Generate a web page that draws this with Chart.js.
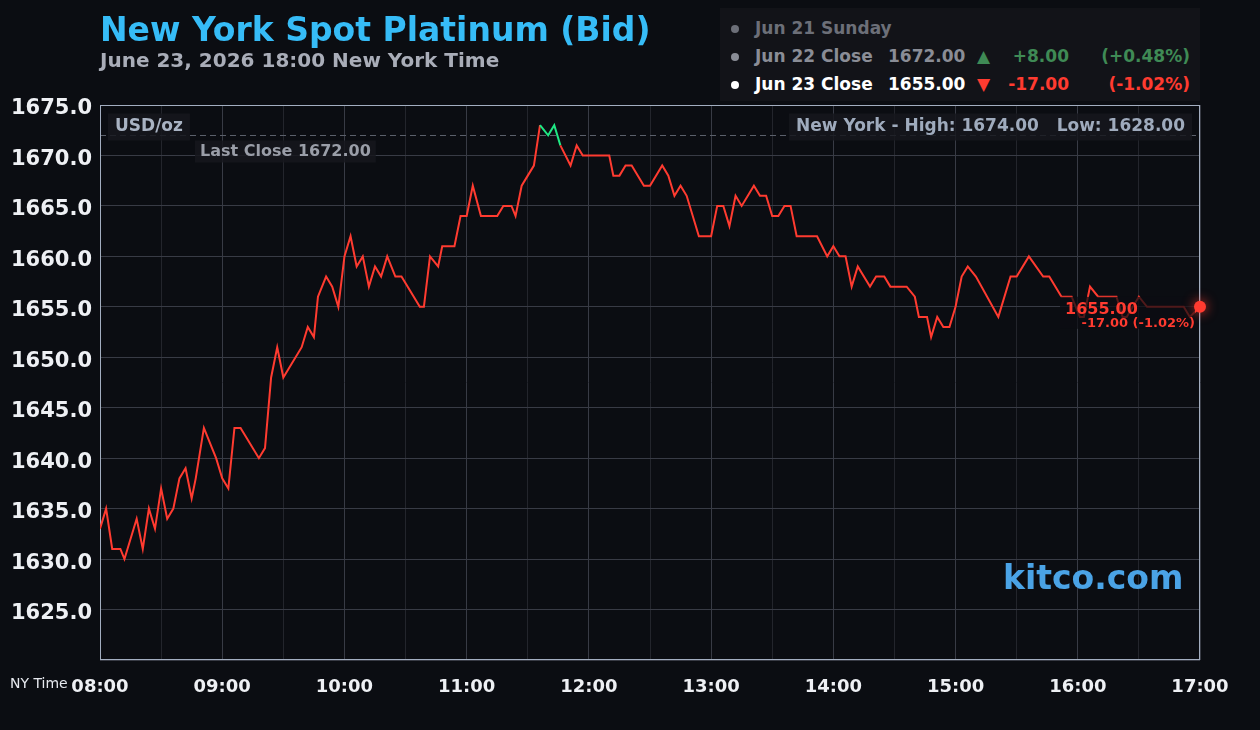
<!DOCTYPE html>
<html>
<head>
<meta charset="utf-8">
<script src="https://cdn.jsdelivr.net/npm/chart.js@4.4.1/dist/chart.umd.min.js"></script>
<style>
  body { margin: 0; background: #0b0d12; font-family: "DejaVu Sans", sans-serif; }
  #wrap { position: relative; width: 1260px; height: 730px; overflow: hidden; }
  #chart { position: absolute; left: 0; top: 0; }
  .t { position: absolute; white-space: nowrap; font-weight: bold; line-height: 1; }
  #legend { position: absolute; left: 720px; top: 8px; width: 480px; height: 93px; background: #121318; }
  .dot { position: absolute; width: 8px; height: 8px; border-radius: 50%; }
</style>
</head>
<body>
<div id="wrap">
  <canvas id="chart" width="1260" height="730"></canvas>

  <div class="t" style="left:100px;top:13px;font-size:33px;color:#36bcf7">New York Spot Platinum (Bid)</div>
  <div class="t" style="left:100px;top:50px;font-size:20px;color:#a9adb8">June 23, 2026 18:00 New York Time</div>

  <div id="legend">
    <div class="dot" style="left:11px;top:17px;background:#6c6f78"></div>
    <div class="t" style="left:35px;top:12px;font-size:17px;color:#6c6f78">Jun 21 Sunday</div>

    <div class="dot" style="left:11px;top:45px;background:#8a8d96"></div>
    <div class="t" style="left:35px;top:40px;font-size:17px;color:#8a8d96">Jun 22 Close</div>
    <div class="t" style="left:168px;top:40px;font-size:17px;color:#8a8d96">1672.00</div>
    <div class="t" style="left:257px;top:40px;font-size:17px;color:#3f8a55">&#9650;</div>
    <div class="t" style="right:131px;top:40px;font-size:17px;color:#3f8a55">+8.00</div>
    <div class="t" style="right:10px;top:40px;font-size:17px;color:#3f8a55">(+0.48%)</div>

    <div class="dot" style="left:11px;top:73px;background:#ffffff"></div>
    <div class="t" style="left:35px;top:68px;font-size:17px;color:#ffffff">Jun 23 Close</div>
    <div class="t" style="left:168px;top:68px;font-size:17px;color:#ffffff">1655.00</div>
    <div class="t" style="left:257px;top:68px;font-size:17px;color:#ff3b30">&#9660;</div>
    <div class="t" style="right:131px;top:68px;font-size:17px;color:#ff3b30">-17.00</div>
    <div class="t" style="right:10px;top:68px;font-size:17px;color:#ff3b30">(-1.02%)</div>
  </div>

  <div class="t" style="left:1003px;top:561px;font-size:33px;color:#4aa3e6">kitco.com</div>
  <div class="t" style="left:10px;top:676px;font-size:14px;font-weight:normal;color:#e6e8ee">NY Time</div>
</div>

<script>
// New York time, June 23
const times = [
  '08:00','08:03','08:06','08:10','08:12','08:18','08:21','08:24','08:27','08:30',
  '08:33','08:36','08:39','08:42','08:45','08:47','08:51','08:55','08:57','09:00',
  '09:03','09:06','09:09','09:12','09:18','09:21','09:24','09:27','09:30','09:39',
  '09:42','09:45','09:47','09:51','09:54','09:57','10:00','10:03','10:06','10:09',
  '10:12','10:15','10:18','10:21','10:25','10:28','10:37','10:39','10:42','10:46',
  '10:48','10:54','10:57','11:00','11:03','11:07','11:15','11:18','11:22','11:24',
  '11:27','11:30','11:33','11:36','11:40','11:43','11:46','11:51','11:54','11:57',
  '12:10','12:12','12:15','12:18','12:21','12:27','12:30','12:36','12:39','12:42',
  '12:45','12:48','12:54','13:00','13:03','13:06','13:09','13:12','13:15','13:21',
  '13:24','13:27','13:30','13:33','13:36','13:39','13:42','13:52','13:57','14:00',
  '14:03','14:06','14:09','14:12','14:18','14:21','14:25','14:28','14:36','14:40',
  '14:42','14:46','14:48','14:51','14:54','14:57','15:00','15:03','15:06','15:10',
  '15:21','15:27','15:30','15:36','15:43','15:46','15:52','15:57','16:01','16:03',
  '16:06','16:10','16:19','16:22','16:24','16:30','16:34','16:52','16:55','17:00'
];
const prices = [
  1633,1635,1631,1631,1630,1634,1631,1635,1633,1637,
  1634,1635,1638,1639,1636,1638,1643,1641,1640,1638,
  1637,1643,1643,1642,1640,1641,1648,1651,1648,1651,
  1653,1652,1656,1658,1657,1655,1660,1662,1659,1660,
  1657,1659,1658,1660,1658,1658,1655,1655,1660,1659,
  1661,1661,1664,1664,1667,1664,1664,1665,1665,1664,
  1667,1668,1669,1673,1672,1673,1671,1669,1671,1670,
  1670,1668,1668,1669,1669,1667,1667,1669,1668,1666,
  1667,1666,1662,1662,1665,1665,1663,1666,1665,1667,
  1666,1666,1664,1664,1665,1665,1662,1662,1660,1661,
  1660,1660,1657,1659,1657,1658,1658,1657,1657,1656,
  1654,1654,1652,1654,1653,1653,1655,1658,1659,1658,
  1654,1658,1658,1660,1658,1658,1656,1656,1654,1654,
  1657,1656,1656,1654,1654,1656,1655,1655,1654,1655
];
const hourLabels = ['08:00','09:00','10:00','11:00','12:00','13:00','14:00','15:00','16:00','17:00'];

const lastClose = 1672.00;
const dayHigh = 1674.00;
const dayLow = 1628.00;
const change = -17.00;
const changePct = -1.02;

const RED = '#ff3b30';
const GREEN = '#1fe884';

function toMin(t) {
  const [h, m] = t.split(':').map(Number);
  return (h - 8) * 60 + m;
}

function labelBox(ctx, text, font, x, y, align, color, bg, padX, padY, size) {
  ctx.font = font;
  const w = ctx.measureText(text).width;
  const left = align === 'right' ? x - w : x;
  ctx.fillStyle = bg;
  ctx.fillRect(left - padX, y - size / 2 - padY, w + padX * 2, size + padY * 2);
  ctx.fillStyle = color;
  ctx.textAlign = 'left';
  ctx.textBaseline = 'middle';
  ctx.fillText(text, left, y);
}

const overlay = {
  id: 'overlay',
  beforeDatasetsDraw(chart) {
    const { ctx, chartArea: a, scales: { y } } = chart;
    ctx.save();
    // last close line
    const yc = Math.round(y.getPixelForValue(lastClose)) + 0.5;
    ctx.strokeStyle = '#5b606b';
    ctx.lineWidth = 1;
    ctx.setLineDash([6, 4]);
    ctx.beginPath();
    ctx.moveTo(a.left, yc);
    ctx.lineTo(a.right, yc);
    ctx.stroke();
    ctx.setLineDash([]);

    labelBox(ctx, 'USD/oz', 'bold 17px "DejaVu Sans"', a.left + 15, a.top + 22, 'left',
      '#a9b3c3', 'rgba(22,24,29,0.85)', 7, 5, 17);
    labelBox(ctx, 'Last Close ' + lastClose.toFixed(2), 'bold 16px "DejaVu Sans"', a.left + 100, yc + 16, 'left',
      '#9a9ea8', 'rgba(22,24,29,0.85)', 5, 3, 16);
    labelBox(ctx, 'New York - High: ' + dayHigh.toFixed(2) + '   Low: ' + dayLow.toFixed(2),
      'bold 17px "DejaVu Sans"', a.right - 15, a.top + 22, 'right',
      '#9fabbd', 'rgba(22,24,29,0.85)', 7, 5, 17);

    // plot frame
    ctx.strokeStyle = '#a3aec0';
    ctx.strokeRect(a.left + 0.5, a.top + 0.5, a.right - a.left - 1, a.bottom - a.top - 1);
    ctx.restore();
  },
  afterDatasetsDraw(chart) {
    const { ctx } = chart;
    const pts = chart.getDatasetMeta(0).data;
    const last = pts[pts.length - 1];
    ctx.save();
    // end value label, drawn over the line
    const bx = last.x - 140, by = last.y - 10;
    ctx.fillStyle = 'rgba(11,13,18,0.72)';
    ctx.fillRect(bx, by, 135, 32);
    ctx.fillStyle = RED;
    ctx.textBaseline = 'middle';
    ctx.textAlign = 'left';
    ctx.font = 'bold 16px "DejaVu Sans"';
    ctx.fillText(prices[prices.length - 1].toFixed(2), bx + 5, last.y + 3);
    ctx.textAlign = 'right';
    ctx.font = 'bold 13px "DejaVu Sans"';
    ctx.fillText(change.toFixed(2) + ' (' + changePct.toFixed(2) + '%)', last.x - 5, last.y + 17);
    // end marker
    ctx.shadowColor = 'rgba(255,59,48,0.9)';
    ctx.shadowBlur = 12;
    ctx.fillStyle = RED;
    ctx.beginPath();
    ctx.arc(last.x, last.y, 6, 0, Math.PI * 2);
    ctx.fill();
    ctx.restore();
  }
};

new Chart(document.getElementById('chart'), {
  type: 'line',
  data: {
    datasets: [{
      data: times.map((t, i) => ({ x: toMin(t), y: prices[i] })),
      borderColor: RED,
      borderWidth: 2,
      pointRadius: 0,
      tension: 0,
      segment: {
        borderColor: c => c.p0.parsed.y >= lastClose ? GREEN : RED
      }
    }]
  },
  options: {
    responsive: false,
    animation: false,
    layout: { padding: { top: 105, right: 60, left: 0, bottom: 0 } },
    plugins: { legend: { display: false }, tooltip: { enabled: false } },
    scales: {
      x: {
        type: 'linear',
        min: 0,
        max: 540,
        afterFit: s => { s.height = 70; },
        border: { display: false },
        grid: {
          drawTicks: false,
          color: c => c.tick.value % 60 === 0 ? '#383b45' : '#23252c'
        },
        ticks: {
          stepSize: 30,
          autoSkip: false,
          maxRotation: 0,
          padding: 17,
          color: '#eef0f4',
          font: { family: '"DejaVu Sans"', size: 18, weight: 'bold' },
          callback: v => v % 60 === 0 ? hourLabels[v / 60] : ''
        }
      },
      y: {
        min: 1620,
        max: 1675,
        afterFit: s => { s.width = 100; },
        border: { display: false },
        grid: {
          drawTicks: false,
          color: c => c.tick.value % 5 === 0 ? '#383b45' : '#262830'
        },
        ticks: {
          stepSize: 2.5,
          padding: 8,
          labelOffset: 4,
          color: '#eef0f4',
          font: { family: '"DejaVu Sans"', size: 21, weight: 'bold' },
          callback: v => (v % 5 === 0 && v > 1620) ? v.toFixed(1) : ''
        }
      }
    }
  },
  plugins: [overlay]
});
</script>
</body>
</html>
